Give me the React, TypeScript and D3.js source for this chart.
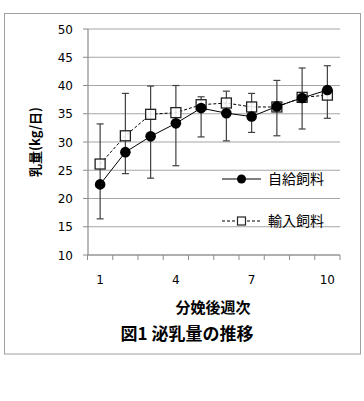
import * as d3 from "d3"

const weeks = [1, 2, 3, 4, 5, 6, 7, 8, 9, 10]
const weekLabels = [1, 4, 7, 10]
const yTicks = [10, 15, 20, 25, 30, 35, 40, 45, 50]

// 自給飼料 (filled circles) and 輸入飼料 (open squares), kg/day
const selfFeed = [22.5, 28.2, 31.0, 33.3, 36.0, 35.1, 34.5, 36.3, 37.8, 39.2]
const importFeed = [26.1, 31.1, 34.9, 35.2, 36.6, 36.9, 36.2, 36.2, 37.9, 38.3]
// error bar ends as drawn
const errTop = [33.2, 38.6, 39.9, 40.0, 38.0, 39.0, 38.6, 40.9, 43.1, 43.5]
const errBottom = [16.4, 24.4, 23.6, 25.8, 30.9, 30.2, 31.7, 31.1, 32.3, 34.2]

const seriesNames = ["自給飼料", "輸入飼料"]

const W = 364
const H = 401
const jp = "'Noto Sans CJK JP', sans-serif"
const num = "'DejaVu Sans', sans-serif"

export default function App() {
  const x = d3.scaleBand<number>().domain(weeks).range([87.5, 340]).padding(0)
  const y = d3.scaleLinear().domain([10, 50]).range([255, 29])
  const cx = (w: number) => (x(w) as number) + x.bandwidth() / 2

  const line = d3
    .line<number>()
    .x((d, i) => cx(weeks[i]))
    .y((d) => y(d))

  const bounds = [...weeks.map((w) => x(w) as number), 340]

  return (
    <svg width={W} height={H} style={{ position: "absolute", left: 0, top: 0, background: "#fff" }}>
      <rect x={4.5} y={13.5} width={356} height={340.5} fill="#fff" stroke="#a0a0a0" />

      {/* grid */}
      {yTicks.map((t) => (
        <line key={t} x1={88} x2={340} y1={y(t)} y2={y(t)} stroke="#a6a6a6" strokeWidth={1.2} />
      ))}

      {/* y axis */}
      <line x1={88} x2={88} y1={29} y2={255} stroke="#8c8c8c" strokeWidth={1.2} />
      {yTicks.map((t) => (
        <g key={t}>
          <line x1={83} x2={88} y1={y(t)} y2={y(t)} stroke="#8c8c8c" />
          <text x={73} y={y(t) + 4.5} textAnchor="end" fontFamily={num} fontSize={12} fill="#000">
            {t}
          </text>
        </g>
      ))}

      {/* x axis */}
      <line x1={87.5} x2={340} y1={255} y2={255} stroke="#8c8c8c" strokeWidth={1.2} />
      {bounds.map((b, i) => (
        <line key={i} x1={b} x2={b} y1={255} y2={260} stroke="#8c8c8c" />
      ))}
      {weekLabels.map((w) => (
        <text key={w} x={cx(w)} y={284} textAnchor="middle" fontFamily={num} fontSize={12} fill="#000">
          {w}
        </text>
      ))}

      {/* error bars */}
      {weeks.map((w, i) => (
        <g key={w} stroke="#404040" strokeWidth={1.2}>
          <line x1={cx(w)} x2={cx(w)} y1={y(errTop[i])} y2={y(errBottom[i])} />
          <line x1={cx(w) - 3.5} x2={cx(w) + 3.5} y1={y(errTop[i])} y2={y(errTop[i])} />
          <line x1={cx(w) - 3.5} x2={cx(w) + 3.5} y1={y(errBottom[i])} y2={y(errBottom[i])} />
        </g>
      ))}

      {/* 輸入飼料 */}
      <path d={line(importFeed) || ""} fill="none" stroke="#000" strokeWidth={1} strokeDasharray="3,2" />
      {importFeed.map((v, i) => (
        <rect
          key={i}
          x={cx(weeks[i]) - 5}
          y={y(v) - 5}
          width={10}
          height={10}
          fill="#fff"
          fillOpacity={0.85}
          stroke="#222"
          strokeWidth={1.3}
        />
      ))}

      {/* 自給飼料 */}
      <path d={line(selfFeed) || ""} fill="none" stroke="#000" strokeWidth={1} />
      {selfFeed.map((v, i) => (
        <circle key={i} cx={cx(weeks[i])} cy={y(v)} r={5.3} fill="#000" />
      ))}

      {/* legend */}
      <line x1={222} x2={261} y1={179} y2={179} stroke="#000" strokeWidth={1} />
      <circle cx={241.5} cy={179} r={4.5} fill="#000" />
      <text x={268} y={184} fontFamily={jp} fontSize={14} fill="#000">
        {seriesNames[0]}
      </text>
      <line x1={222} x2={261} y1={221} y2={221} stroke="#000" strokeWidth={1} strokeDasharray="3,2" />
      <rect x={237.5} y={217} width={8} height={8} fill="#fff" stroke="#222" strokeWidth={1.2} />
      <text x={268} y={226} fontFamily={jp} fontSize={14} fill="#000">
        {seriesNames[1]}
      </text>

      {/* titles */}
      <text
        transform="translate(40,142) rotate(-90)"
        textAnchor="middle"
        fontFamily={jp}
        fontSize={13}
        fontWeight="bold"
        fill="#000"
      >
        乳量(kg/日)
      </text>
      <text x={213} y={313} textAnchor="middle" fontFamily={jp} fontSize={15} fontWeight="bold" fill="#000">
        分娩後週次
      </text>
      <text x={187} y={340} textAnchor="middle" fontFamily={jp} fontSize={17} fontWeight="bold" fill="#000">
        図1 泌乳量の推移
      </text>
    </svg>
  )
}
